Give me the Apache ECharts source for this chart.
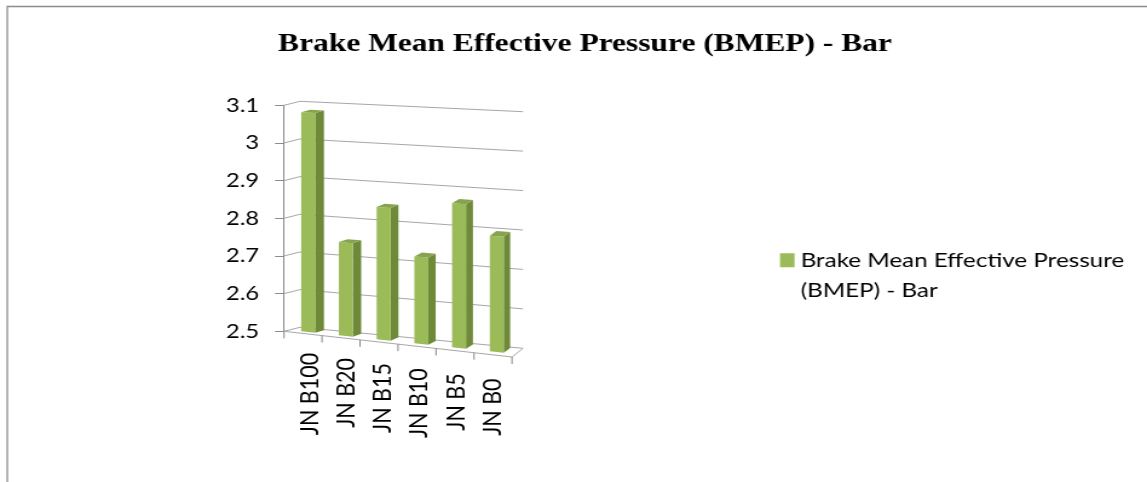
<!DOCTYPE html>
<html>
<head>
<meta charset="utf-8">
<script src="https://cdn.jsdelivr.net/npm/echarts@6/dist/echarts.min.js"></script>
<style>
  html, body { margin: 0; padding: 0; background: #fff; overflow: hidden; }
  #main { height: 482px; transform-origin: 0 0; }
</style>
</head>
<body>
<div id="main"></div>
<script>
// Chart data
const seriesName = 'Brake Mean Effective Pressure (BMEP) - Bar';
const categories = ['JN B100', 'JN B20', 'JN B15', 'JN B10', 'JN B5', 'JN B0'];
const bmep = [3.08, 2.745, 2.845, 2.725, 2.87, 2.795];
const yTicks = [2.5, 2.6, 2.7, 2.8, 2.9, 3.0, 3.1];

// The page is drawn narrow and widened horizontally
const K = 1.21;
const el = document.getElementById('main');
el.style.width = (1147 / K) + 'px';
el.style.transform = 'scaleX(' + K + ')';

const Y_MIN = yTicks[0];
const Y_MAX = yTicks[yTicks.length - 1];

// Oblique 3D look: walls recede up/right, floor tilts down to the right
const FLOOR_DROP = 25.7;
const TOP_DROP = 15.1;
const DEPTH_DX0 = 16 / K, DEPTH_DX1 = 11 / K;
const DEPTH_DY0 = -4, DEPTH_DY1 = -8.7;
const BAR_RATIO = 0.37;
const BAR_D0 = 0.33, BAR_D1 = 0.9;
const TICK_LEN = 7;

const GRID_COLOR = '#a8a8a8';
const AXIS_COLOR = '#8a8a8a';

function project(rect, px, py, d) {
  const u = (px - rect.x) / rect.width;
  const t = (rect.y + rect.height - py) / rect.height;
  const drop = u * (FLOOR_DROP * (1 - t) + TOP_DROP * t);
  const dx = (DEPTH_DX0 + (DEPTH_DX1 - DEPTH_DX0) * u) * d;
  const dy = (DEPTH_DY0 + (DEPTH_DY1 - DEPTH_DY0) * u) * d;
  return [px + dx, py + drop + dy];
}

function seg(a, b, color) {
  return {
    type: 'line',
    shape: { x1: a[0], y1: a[1], x2: b[0], y2: b[1] },
    style: { stroke: color, lineWidth: 1 }
  };
}

function poly(points, fill) {
  return { type: 'polygon', shape: { points: points }, style: { fill: fill, stroke: null } };
}

// Side wall, back wall gridlines, floor and category ticks
function wallItem(params, api) {
  const rect = params.coordSys;
  const v = api.value(1);
  const y = api.coord([0, v])[1];
  const L = rect.x, R = rect.x + rect.width;
  const a = project(rect, L, y, 0);
  const b = project(rect, L, y, 1);
  const c = project(rect, R, y, 1);
  const children = [seg(a, b, GRID_COLOR), seg(b, c, GRID_COLOR)];
  if (v === Y_MIN) {
    const f = project(rect, R, y, 0);
    children.push(seg(a, f, GRID_COLOR), seg(f, c, GRID_COLOR));
    const n = categories.length;
    for (let k = 0; k <= n; k++) {
      const p = project(rect, L + rect.width * k / n, y, 0);
      children.push(seg(p, [p[0], p[1] + TICK_LEN], AXIS_COLOR));
    }
  }
  return { type: 'group', children: children };
}

// 3D-looking column: right side, front and top faces
function barItem(params, api) {
  const rect = params.coordSys;
  const i = api.value(0), v = api.value(1);
  const top = api.coord([i, v]);
  const base = api.coord([i, Y_MIN]);
  const half = api.size([1, 0])[0] * BAR_RATIO / 2;
  const xl = top[0] - half, xr = top[0] + half;
  const P = (x, y, d) => project(rect, x, y, d);
  const side = [P(xr, top[1], BAR_D0), P(xr, top[1], BAR_D1), P(xr, base[1], BAR_D1), P(xr, base[1], BAR_D0)];
  const front = [P(xl, top[1], BAR_D0), P(xr, top[1], BAR_D0), P(xr, base[1], BAR_D0), P(xl, base[1], BAR_D0)];
  const lid = [P(xl, top[1], BAR_D0), P(xr, top[1], BAR_D0), P(xr, top[1], BAR_D1), P(xl, top[1], BAR_D1)];
  return {
    type: 'group',
    children: [poly(side, '#6e8a39'), poly(front, '#9bbb59'), poly(lid, '#86a44c')]
  };
}

// Category names, rotated, following the tilted floor edge
function labelItem(params, api) {
  const rect = params.coordSys;
  const i = api.value(0);
  const c = api.coord([i, Y_MIN]);
  const u = (c[0] - rect.x) / rect.width;
  const p = project(rect, c[0], c[1], 0);
  return {
    type: 'text',
    x: p[0] + (7 - 8 * u) / K,
    y: p[1] + 19 + 5 * u,
    rotation: Math.PI / 2,
    style: {
      text: categories[i],
      align: 'right',
      verticalAlign: 'middle',
      fontFamily: 'Lato',
      fontSize: 21.5,
      fill: '#000'
    }
  };
}

const chart = echarts.init(el, null, { renderer: 'canvas' });
chart.setOption({
  animation: false,
  backgroundColor: '#ffffff',
  title: {
    text: seriesName,
    left: 272 / K,
    top: 26,
    textStyle: { fontFamily: 'Liberation Serif', fontWeight: 'bold', fontSize: 26, color: '#000' }
  },
  legend: {
    data: [seriesName],
    left: 780 / K,
    top: 214.5,
    padding: 0,
    icon: 'rect',
    itemWidth: 12,
    itemHeight: 14,
    selectedMode: false,
    // leading blank line keeps the swatch level with the first text line
    formatter: name => '\n' + name.replace(' (', '\n('),
    textStyle: { fontFamily: 'Lato', fontSize: 20, color: '#000', lineHeight: 30.5 }
  },
  graphic: [{
    type: 'rect',
    shape: { x: 6, y: 6.5, width: 3000, height: 3000 },
    style: { fill: null, stroke: '#8c8c8c', lineWidth: 1.3 },
    silent: true,
    z: -10
  }],
  grid: { left: 284 / K, top: 105.3, width: 228 / K, height: 226 },
  xAxis: {
    type: 'category',
    data: categories,
    axisLine: { show: false },
    axisTick: { show: false },
    axisLabel: { show: false },
    splitLine: { show: false }
  },
  yAxis: {
    type: 'value',
    min: Y_MIN,
    max: Y_MAX,
    interval: 0.1,
    axisLine: { show: true, lineStyle: { color: AXIS_COLOR, width: 1 } },
    axisTick: { show: true, inside: false, length: 9 / K, lineStyle: { color: AXIS_COLOR } },
    axisLabel: { margin: 25 / K, fontFamily: 'Lato', fontSize: 19.5, color: '#000' },
    splitLine: { show: false }
  },
  series: [
    {
      type: 'custom',
      name: 'walls',
      silent: true,
      clip: false,
      z: 1,
      renderItem: wallItem,
      encode: { x: 0, y: 1 },
      data: yTicks.map(v => [0, v])
    },
    {
      type: 'custom',
      name: seriesName,
      clip: false,
      z: 3,
      itemStyle: { color: '#9bbb59' },
      renderItem: barItem,
      encode: { x: 0, y: 1 },
      data: categories.map((c, i) => [i, bmep[i]])
    },
    {
      type: 'custom',
      name: 'labels',
      silent: true,
      clip: false,
      z: 3,
      renderItem: labelItem,
      encode: { x: 0, y: 1 },
      data: categories.map((c, i) => [i, Y_MIN])
    }
  ]
});
</script>
</body>
</html>
